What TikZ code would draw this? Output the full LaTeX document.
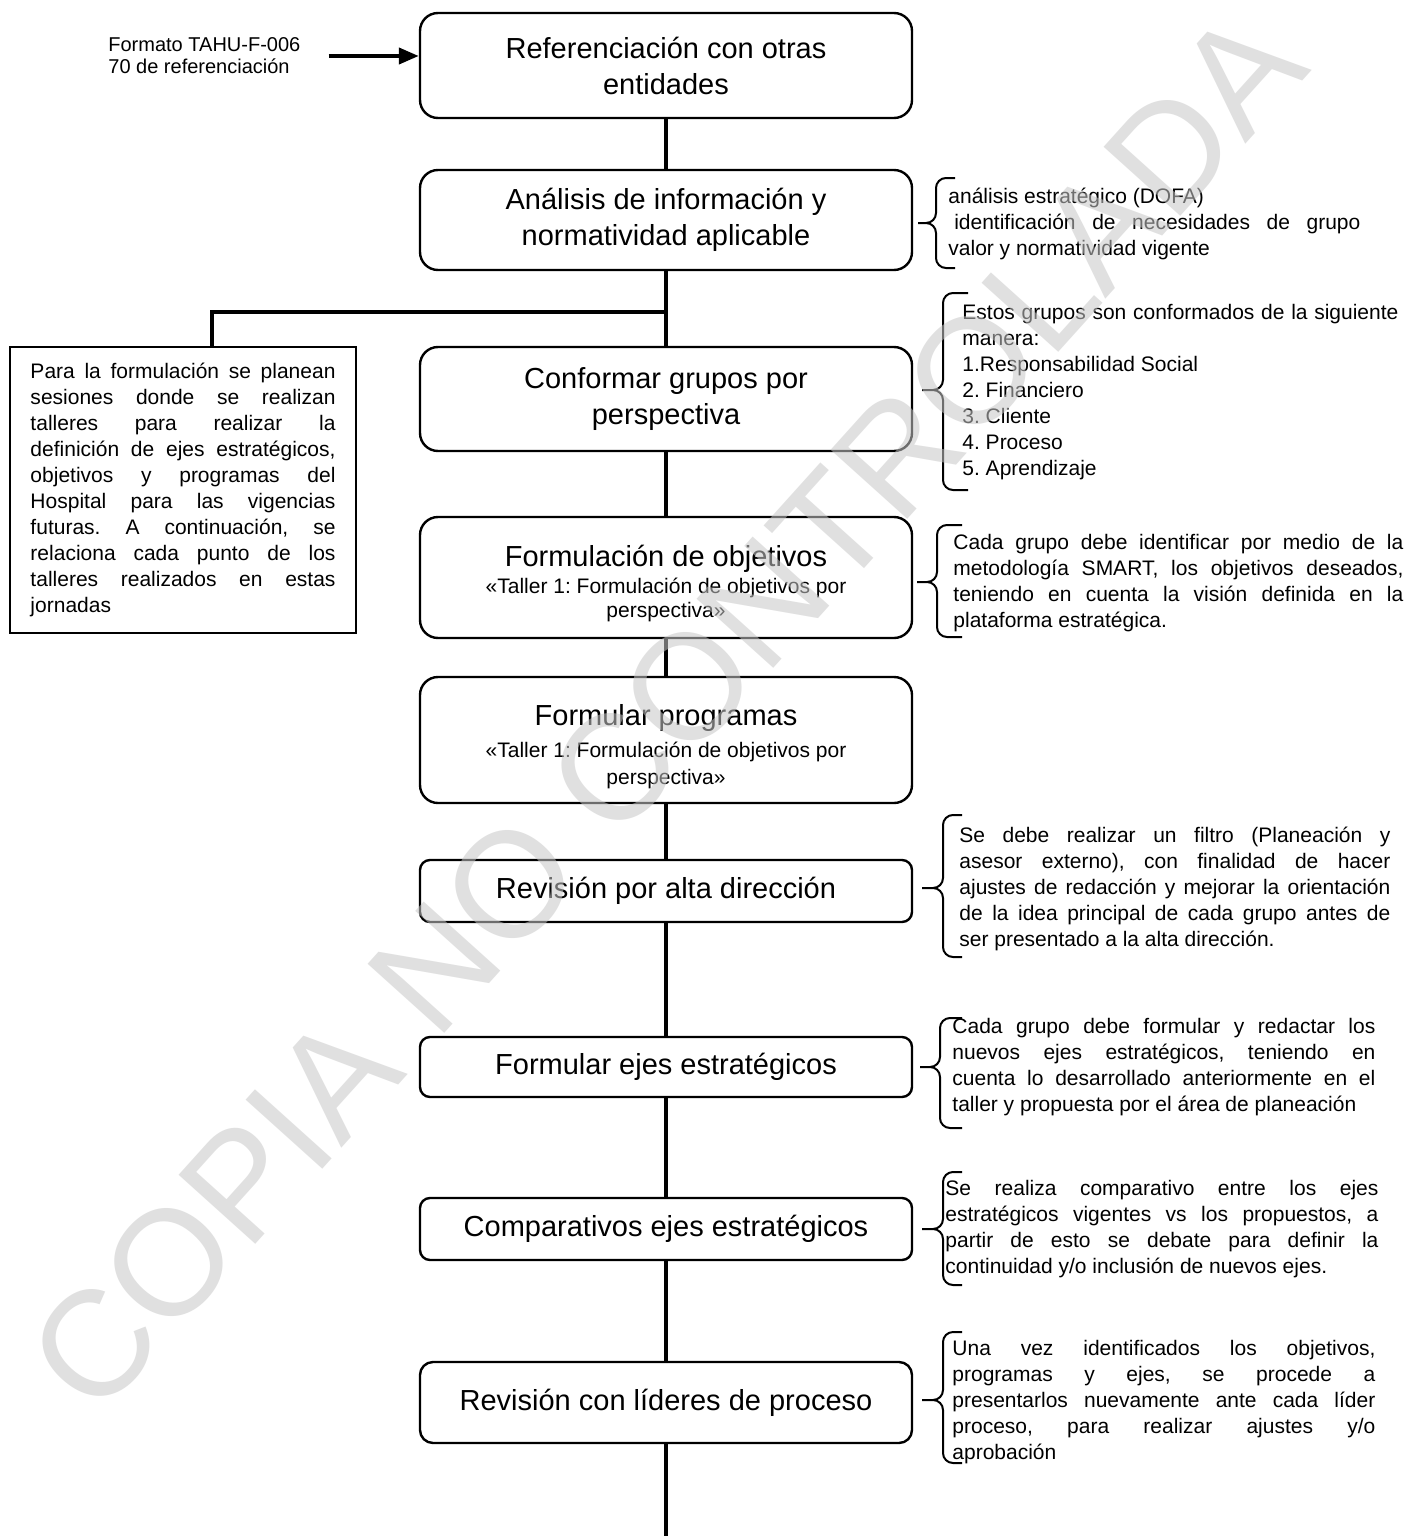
\documentclass[tikz,border=0pt]{standalone}
\usepackage{fontspec}
\setmainfont{Liberation Sans}
\frenchspacing
\usetikzlibrary{arrows.meta}

\begin{document}
\begin{tikzpicture}[x=0.5pt,y=-0.5pt,
  paso/.style={draw,line width=1.2pt,rounded corners=9pt,minimum width=246pt,
    text width=225pt,align=flush center,font=\fontsize{14.5}{18}\selectfont},
  texto/.style={anchor=west,inner sep=0pt,align=justify,font=\fontsize{10.5}{13}\selectfont},
  linea/.style={line width=2pt},
  llave/.style={line width=1pt,rounded corners=5pt},
  marca/.style={rotate=48,text=black!22,opacity=0.55,font=\fontsize{75}{80}\selectfont}]
\fill[white] (0,0) rectangle (1408,1536);
\useasboundingbox (0,0) rectangle (1408,1536);

\node[paso,minimum height=52.5pt] (ref) at (666,65.5) {Referenciación con otras\\entidades};
\node[paso,minimum height=50pt]   (ana) at (666,220) {Análisis de información y\\normatividad aplicable};
\node[paso,minimum height=52pt]   (conf) at (666,399) {Conformar grupos por\\perspectiva};
\node[paso,minimum height=60.5pt] (obj) at (666,577.5) {{\rule{0pt}{17pt}Formulación de objetivos\par}
  {\fontsize{10.5}{12}\selectfont\vspace{1.5pt}«Taller 1: Formulación de objetivos por perspectiva»\par}};
\node[paso,minimum height=63pt]   (prog) at (666,740) {{\rule{0pt}{17pt}Formular programas\par}
  {\fontsize{10.5}{13.5}\selectfont\vspace{2.5pt}«Taller 1: Formulación de objetivos por perspectiva»\par}};
\node[paso,minimum height=31pt,rounded corners=5pt]   (rev) at (666,891) {Revisión por alta dirección};
\node[paso,minimum height=30pt,rounded corners=5pt]   (ejes) at (666,1067) {Formular ejes estratégicos};
\node[paso,minimum height=31pt,rounded corners=5pt]   (comp) at (666,1229) {Comparativos ejes estratégicos};
\node[paso,minimum height=40.5pt,rounded corners=6.5pt] (lid) at (666,1402.5) {Revisión con líderes de proceso};
\coordinate (fin) at (666,1536);

\draw[linea] (ref) -- (ana) (ana) -- (conf) (conf) -- (obj) (obj) -- (prog)
  (prog) -- (rev) (rev) -- (ejes) (ejes) -- (comp) (comp) -- (lid) (lid) -- (fin);

% entrada
\node[anchor=west,align=left,inner sep=0pt,font=\fontsize{10}{11}\selectfont] (formato) at (108,56)
  {Formato TAHU-F-006\\70 de referenciación};
\draw[linea,-{Triangle[length=10pt,width=8pt]},shorten <=14pt] (formato.east) -- (formato.east -| ref.west);

% nota izquierda
\node[draw,line width=1pt,text width=152.5pt,inner xsep=10.25pt,inner ysep=0pt,minimum height=143pt,
  align=justify,font=\fontsize{10.5}{13}\selectfont] (nota) at (183,490)
  {Para la formulación se planean\linebreak sesiones donde se realizan\linebreak talleres para realizar la\linebreak
   definición de ejes estratégicos,\linebreak objetivos y programas del\linebreak Hospital para las vigencias\linebreak
   futuras. A continuación, se\linebreak relaciona cada punto de los\linebreak talleres realizados en estas\linebreak jornadas};
\coordinate (rama) at (666,312);
\coordinate (codo) at (212,312);
\draw[linea] (rama) -- (codo) -- (codo |- nota.north);

% notas derechas
\node[texto,text width=206pt] (dofa) at (948,223.5) {análisis estratégico (DOFA)\\
  \hspace*{.28em}identificación de necesidades de grupo\linebreak valor y normatividad vigente};
\node[texto,text width=218pt] (grupos) at (962,392) {Estos grupos son conformados de la siguiente\linebreak
  manera:\\1.Responsabilidad Social\\2. Financiero\\3. Cliente\\4. Proceso\\5. Aprendizaje};
\node[texto,text width=225pt] (smart) at (953,583.5) {Cada grupo debe identificar por medio de la\linebreak
  metodología SMART, los objetivos deseados,\linebreak teniendo en cuenta la visión definida en la\linebreak
  plataforma estratégica.};
\node[texto,text width=215.5pt] (filtro) at (959,889) {Se debe realizar un filtro (Planeación y\linebreak
  asesor externo), con finalidad de hacer\linebreak ajustes de redacción y mejorar la orientación\linebreak
  de la idea principal de cada grupo antes de\linebreak ser presentado a la alta dirección.};
\node[texto,text width=211.5pt] (redactar) at (952,1067) {Cada grupo debe formular y redactar los\linebreak
  nuevos ejes estratégicos, teniendo en\linebreak cuenta lo desarrollado anteriormente en el\linebreak
  taller y propuesta por el área de planeación};
\node[texto,text width=216.5pt] (comparar) at (945,1229) {Se realiza comparativo entre los ejes\linebreak
  estratégicos vigentes vs los propuestos, a\linebreak partir de esto se debate para definir la\linebreak
  continuidad y/o inclusión de nuevos ejes.};
\node[texto,text width=211.5pt] (lideres) at (952,1402.5) {Una vez identificados los objetivos,\linebreak
  programas y ejes, se procede a\linebreak presentarlos nuevamente ante cada líder\linebreak
  proceso, para realizar ajustes y/o\linebreak aprobación};

% llaves
\draw[llave] (955,178) -- (936,178) -- (936,223) -- (918,223) (918,223) -- (936,223) -- (936,268) -- (955,268);
\draw[llave] (968,293) -- (943,293) -- (943,390) -- (922,390) (922,390) -- (943,390) -- (943,490) -- (968,490);
\draw[llave] (962,525) -- (937,525) -- (937,582) -- (917,582) (917,582) -- (937,582) -- (937,637) -- (962,637);
\draw[llave] (962,815) -- (943,815) -- (943,888) -- (922,888) (922,888) -- (943,888) -- (943,957) -- (962,957);
\draw[llave] (962,1018) -- (940,1018) -- (940,1067) -- (920,1067) (920,1067) -- (940,1067) -- (940,1128) -- (962,1128);
\draw[llave] (962,1172) -- (943,1172) -- (943,1229) -- (922,1229) (922,1229) -- (943,1229) -- (943,1285) -- (962,1285);
\draw[llave] (962,1332) -- (943,1332) -- (943,1400) -- (922,1400) (922,1400) -- (943,1400) -- (943,1463) -- (962,1463);

% marca de agua
\node[marca] (copia) at (666,711) {COPIA NO CONTROLADA};
\end{tikzpicture}
\end{document}
